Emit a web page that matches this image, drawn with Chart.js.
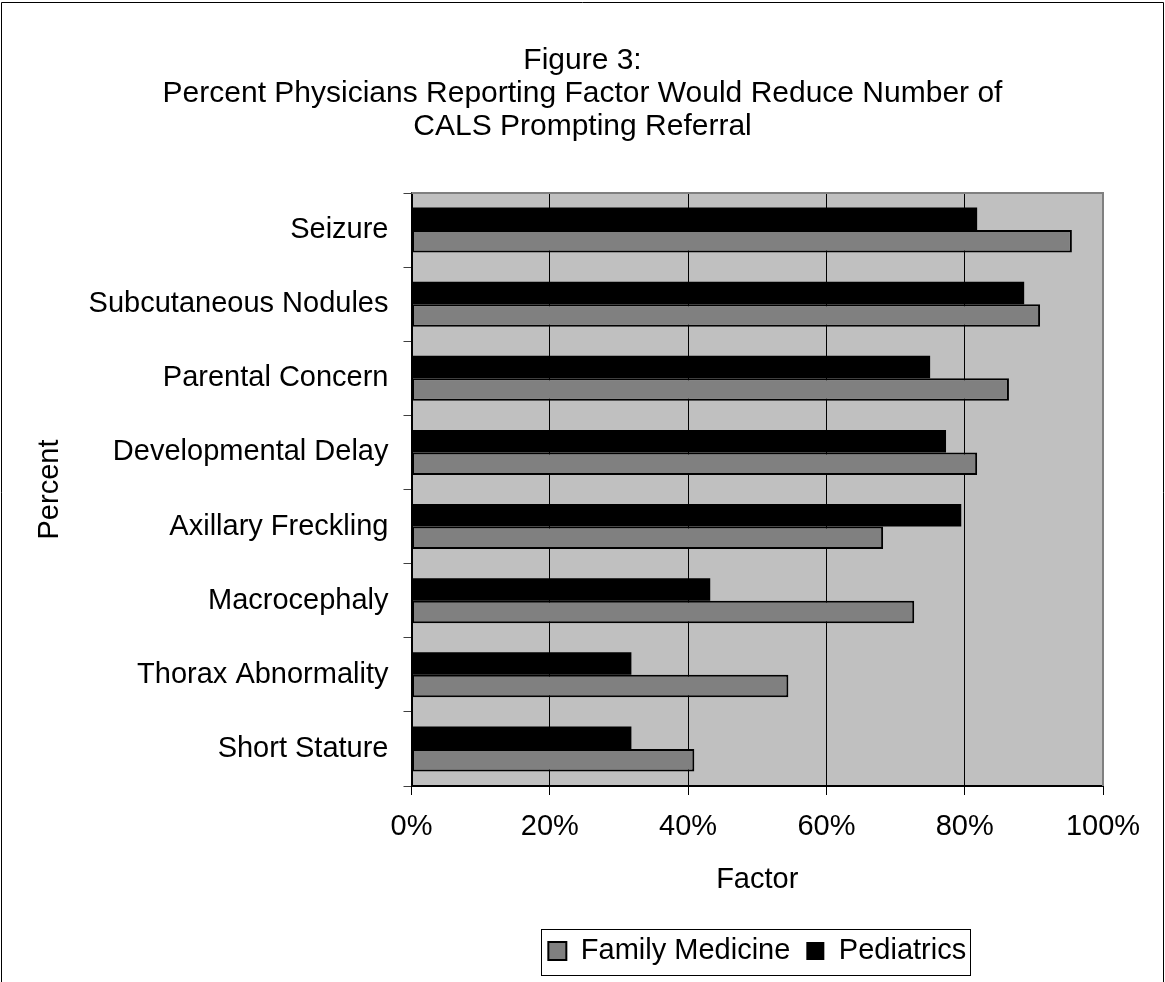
<!DOCTYPE html>
<html>
<head>
<meta charset="utf-8">
<script src="https://cdn.jsdelivr.net/npm/chart.js@4/dist/chart.umd.min.js"></script>
<style>
  html, body { margin: 0; padding: 0; background: #ffffff; }
  #wrap { position: relative; width: 1165px; height: 982px; }
</style>
</head>
<body>
<div id="wrap"><canvas id="c" width="1165" height="982"></canvas></div>
<script>
// Survey results: share of physicians (per specialty) reporting each factor
const categories = [
  'Seizure',
  'Subcutaneous Nodules',
  'Parental Concern',
  'Developmental Delay',
  'Axillary Freckling',
  'Macrocephaly',
  'Thorax Abnormality',
  'Short Stature'
];
const familyMedicine = [95.5, 90.9, 86.4, 81.8, 68.2, 72.7, 54.5, 40.9];
const pediatrics     = [81.8, 88.6, 75.0, 77.3, 79.5, 43.2, 31.8, 31.8];
const percentTicks = ['0%', '20%', '40%', '60%', '80%', '100%'];
const titleLines = [
  'Figure 3:',
  'Percent Physicians Reporting Factor Would Reduce Number of',
  'CALS Prompting Referral'
];

const FONT = "'Liberation Sans', Arial, Helvetica, sans-serif";
Chart.defaults.font.family = FONT;
Chart.defaults.color = '#000000';

// Plot background, plot frame, outer frame and the boxed legend
const framePlugin = {
  id: 'frame',
  afterLayout(chart) {
    // centre the title across the whole canvas rather than the padded area
    const t = chart.titleBlock;
    if (t) { t.left = 0; t.right = chart.width; t.width = chart.width; }
  },
  beforeDraw(chart) {
    const { ctx, chartArea: a } = chart;
    ctx.save();
    ctx.fillStyle = '#ffffff';
    ctx.fillRect(0, 0, chart.width, chart.height);
    ctx.fillStyle = '#c0c0c0';
    ctx.fillRect(a.left, a.top, a.right - a.left, a.bottom - a.top);
    ctx.restore();
  },
  beforeDatasetsDraw(chart) {
    const { ctx, chartArea: a } = chart;
    ctx.save();
    ctx.strokeStyle = '#808080';
    ctx.lineWidth = 2;
    ctx.beginPath();
    ctx.moveTo(a.left, a.top);
    ctx.lineTo(a.right, a.top);
    ctx.lineTo(a.right, a.bottom);
    ctx.stroke();
    ctx.restore();
  },
  afterDraw(chart) {
    const { ctx } = chart;
    ctx.save();
    ctx.strokeStyle = '#000000';
    ctx.lineWidth = 1;
    ctx.beginPath();
    ctx.moveTo(1.5, chart.height + 5);
    ctx.lineTo(1.5, 2.5);
    ctx.lineTo(chart.width - 1.5, 2.5);
    ctx.lineTo(chart.width - 1.5, chart.height + 5);
    ctx.stroke();

    const boxes = chart.legend && chart.legend.legendHitBoxes;
    if (boxes && boxes.length) {
      const first = boxes[0];
      const last = boxes[boxes.length - 1];
      const x0 = Math.round(first.left - 7) + 0.5;
      const x1 = Math.round(last.left + last.width + 4) + 0.5;
      const y0 = Math.round(first.top - 8) + 0.5;
      const y1 = Math.round(first.top + first.height + 9) + 0.5;
      ctx.strokeRect(x0, y0, x1 - x0, y1 - y0);
    }
    ctx.restore();
  }
};

new Chart(document.getElementById('c'), {
  type: 'bar',
  data: {
    labels: categories,
    datasets: [
      {
        label: 'Pediatrics',
        data: pediatrics,
        backgroundColor: '#000000',
        borderColor: '#000000',
        borderWidth: 0,
        categoryPercentage: 0.607,
        barPercentage: 1.0
      },
      {
        label: 'Family Medicine',
        data: familyMedicine,
        backgroundColor: '#808080',
        borderColor: '#000000',
        borderWidth: 2,
        borderSkipped: false,
        categoryPercentage: 0.607,
        barPercentage: 1.0
      }
    ]
  },
  options: {
    indexAxis: 'y',
    responsive: false,
    animation: false,
    devicePixelRatio: 1,
    layout: { padding: { top: 0, left: 20, right: 62, bottom: 6.5 } },
    plugins: {
      title: {
        display: true,
        text: titleLines,
        color: '#000000',
        font: { size: 30, weight: 'normal', lineHeight: 33 / 30, family: FONT },
        padding: { top: 44.5, bottom: 49.5 }
      },
      legend: {
        display: true,
        position: 'bottom',
        fullSize: false,
        reverse: true,
        labels: {
          boxWidth: 18,
          boxHeight: 18,
          padding: 16,
          color: '#000000',
          font: { size: 29, family: FONT }
        }
      },
      tooltip: { enabled: false }
    },
    scales: {
      x: {
        min: 0,
        max: 100,
        afterFit(scale) { scale.height = 134.5; },
        ticks: {
          stepSize: 20,
          padding: 15,
          color: '#000000',
          font: { size: 29, family: FONT },
          callback: (v, i) => percentTicks[i]
        },
        grid: {
          color: '#000000',
          lineWidth: 1,
          drawTicks: true,
          tickLength: 9,
          tickColor: '#000000'
        },
        border: { display: true, color: '#000000', width: 2 },
        title: {
          display: true,
          text: 'Factor',
          color: '#000000',
          font: { size: 29, family: FONT },
          padding: { top: 0, bottom: 23 }
        }
      },
      y: {
        afterFit(scale) { scale.width = 391.5; },
        ticks: {
          padding: 15,
          color: '#000000',
          autoSkip: false,
          font: { size: 29, family: FONT }
        },
        grid: {
          offset: true,
          drawOnChartArea: false,
          drawTicks: true,
          tickLength: 8,
          tickColor: '#404040'
        },
        border: { display: true, color: '#000000', width: 2 },
        title: {
          display: true,
          text: 'Percent',
          color: '#000000',
          font: { size: 29, family: FONT },
          padding: { top: 13, bottom: 0 }
        }
      }
    }
  },
  plugins: [framePlugin]
});
</script>
</body>
</html>
